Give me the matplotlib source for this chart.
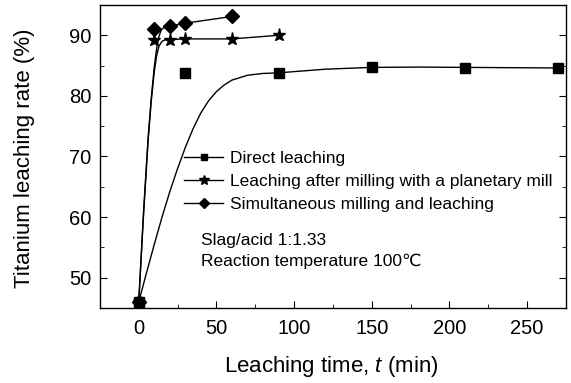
import matplotlib
matplotlib.use("Agg")
import matplotlib.pyplot as plt
from matplotlib.lines import Line2D
from matplotlib.ticker import MultipleLocator

plt.rcParams['font.family'] = ['Liberation Sans', 'DejaVu Sans']
plt.rcParams['mathtext.fontset'] = 'custom'
plt.rcParams['mathtext.it'] = 'Liberation Sans:italic'
plt.rcParams['mathtext.rm'] = 'Liberation Sans'

# measured points
direct_t = [0, 30, 90, 150, 210, 270]
direct_y = [46, 83.7, 83.7, 84.8, 84.6, 84.6]
planetary_t = [0, 10, 20, 30, 60, 90]
planetary_y = [46, 89.3, 89.3, 89.4, 89.4, 90.0]
simult_t = [0, 10, 20, 30, 60]
simult_y = [46, 91.0, 91.5, 92.0, 93.1]

# fitted curves
direct_fit_t = [0, 5, 10, 15, 20, 25, 30, 35, 40, 45, 50, 55, 60, 70, 80, 90, 120, 150, 180, 210, 240, 270]
direct_fit_y = [46, 50.8, 55.5, 60.0, 64.2, 68.0, 71.5, 74.6, 77.2, 79.2, 80.7, 81.8, 82.6, 83.4, 83.7, 83.8, 84.4, 84.7, 84.75, 84.7, 84.65, 84.6]
planetary_fit_t = [0, 3, 6, 8, 10, 11.5, 13, 15, 17, 20, 30, 60, 90]
planetary_fit_y = [46, 60, 72.5, 79, 84, 86.6, 88.2, 89.0, 89.25, 89.3, 89.4, 89.4, 90.0]
simult_fit_t = [0, 3, 6, 8, 10, 11.5, 13, 14.5, 16.5, 20, 30, 60]
simult_fit_y = [46, 60.5, 73, 79.5, 84.8, 87.8, 89.8, 90.9, 91.35, 91.5, 92.0, 93.1]

fig = plt.figure(figsize=(5.71, 3.83), dpi=100)
ax = fig.add_axes([0.175, 0.196, 0.816, 0.791])

ax.plot(direct_fit_t, direct_fit_y, color='black', lw=1.0)
ax.plot(planetary_fit_t, planetary_fit_y, color='black', lw=1.0)
ax.plot(simult_fit_t, simult_fit_y, color='black', lw=1.0)
ax.plot(direct_t, direct_y, ls='none', marker='s', ms=6.5, color='black')
ax.plot(planetary_t, planetary_y, ls='none', marker='*', ms=9.5, color='black')
ax.plot(simult_t, simult_y, ls='none', marker='D', ms=7.5, color='black')

ax.set_xlim(-25, 275)
ax.set_ylim(45, 95)
ax.xaxis.set_major_locator(MultipleLocator(50))
ax.xaxis.set_minor_locator(MultipleLocator(25))
ax.yaxis.set_major_locator(MultipleLocator(10))
ax.yaxis.set_minor_locator(MultipleLocator(5))
ax.set_yticks([50, 60, 70, 80, 90])
ax.tick_params(which='both', direction='in', right=True, top=False, labelsize=14.5)
ax.tick_params(which='major', length=5)
ax.tick_params(which='minor', length=3)
ax.tick_params(axis='x', pad=8)
ax.tick_params(axis='y', pad=6)
for s in ax.spines.values():
    s.set_linewidth(1.0)

ax.set_xlabel('Leaching time, $t$ (min)', fontsize=16)
ax.set_ylabel('Titanium leaching rate (%)', fontsize=16)
ax.xaxis.set_label_coords(0.497, -0.152)
ax.yaxis.set_label_coords(-0.139, 0.495)

handles = [
    Line2D([], [], color='black', lw=1.0, marker='s', ms=5),
    Line2D([], [], color='black', lw=1.0, marker='*', ms=7.5),
    Line2D([], [], color='black', lw=1.0, marker='D', ms=5),
]
labels = ['Direct leaching', 'Leaching after milling with a planetary mill',
          'Simultaneous milling and leaching']
ax.legend(handles, labels, loc='upper left', bbox_to_anchor=(0.181, 0.518),
          frameon=False, fontsize=12.5, handlelength=2.25, handletextpad=0.4,
          labelspacing=0.45, borderpad=0, borderaxespad=0)

ax.text(0.217, 0.188, 'Slag/acid 1:1.33\nReaction temperature 100\u2103',
        transform=ax.transAxes, fontsize=12.5, linespacing=1.45, va='center', ha='left')

fig.savefig('out.png', dpi=100)
